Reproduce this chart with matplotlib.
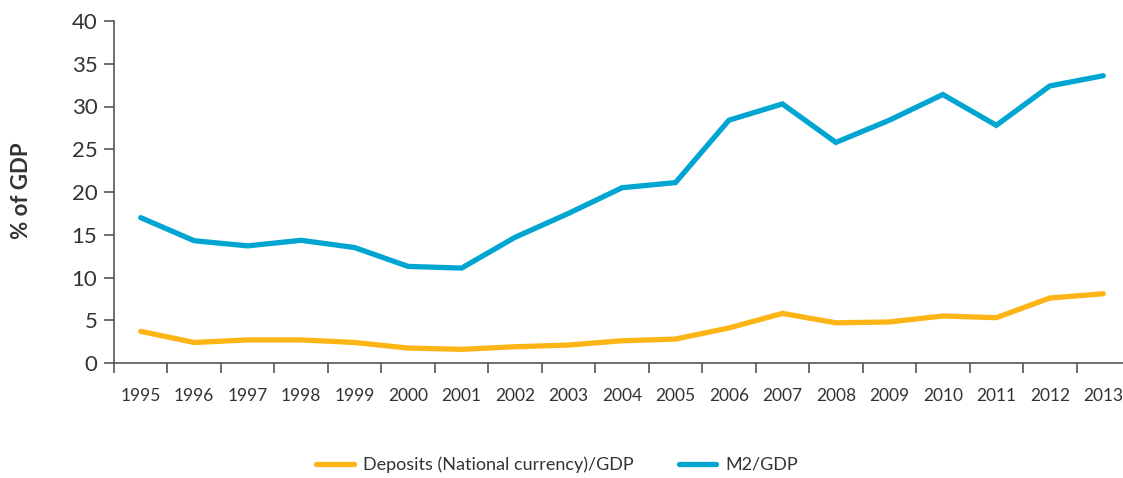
import numpy as np
import matplotlib
matplotlib.use("Agg")
import matplotlib.pyplot as plt

years = [str(y) for y in range(1995, 2014)]
deposits = [3.7, 2.4, 2.7, 2.7, 2.4, 1.75, 1.6, 1.9, 2.1, 2.6, 2.8, 4.1,
            5.8, 4.7, 4.8, 5.5, 5.3, 7.6, 8.1]
m2 = [17.0, 14.3, 13.7, 14.35, 13.5, 11.3, 11.1, 14.7, 17.5, 20.5, 21.1, 28.4,
      30.3, 25.8, 28.4, 31.4, 27.8, 32.4, 33.6]
y_ticks = [0, 5, 10, 15, 20, 25, 30, 35, 40]

orange = '#FDB515'
blue = '#00A5D2'
text_col = '#333333'
axis_col = '#555555'

plt.rcParams['font.family'] = ['Lato', 'DejaVu Sans']

fig = plt.figure(figsize=(11.23, 4.78), dpi=100)
ax = fig.add_axes([114 / 1123, 1 - 363 / 478, (1130 - 114) / 1123, (363 - 21) / 478])

x = np.arange(len(years))
ax.plot(x, deposits, color=orange, lw=3.8, solid_capstyle='round', solid_joinstyle='miter',
        label='Deposits (National currency)/GDP')
ax.plot(x, m2, color=blue, lw=3.8, solid_capstyle='round', solid_joinstyle='miter',
        label='M2/GDP')

ax.set_xlim(-0.5, len(years) - 0.5)
ax.set_ylim(0, 40)
ax.set_yticks(y_ticks)
ax.set_yticklabels([str(t) for t in y_ticks], fontsize=16, color=text_col)

# major ticks at the category borders, labels at the centres
ax.set_xticks(np.arange(-0.5, len(years), 1))
ax.set_xticklabels([])
ax.set_xticks(x, minor=True)
ax.set_xticklabels(years, minor=True, fontsize=12.5, color=text_col)
ax.tick_params(axis='x', which='minor', length=0, pad=18)
ax.tick_params(axis='x', which='major', length=7, width=1.2, color=axis_col)
ax.tick_params(axis='y', length=7, width=1.2, color=axis_col, pad=5)

for side in ['top', 'right']:
    ax.spines[side].set_visible(False)
for side in ['left', 'bottom']:
    ax.spines[side].set_color(axis_col)
    ax.spines[side].set_linewidth(1.2)

fig.text(22 / 1123, 1 - 191 / 478, '% of GDP', rotation=90, ha='center', va='center',
         fontsize=16, fontweight='bold', color=text_col)

fig.legend(loc='center', bbox_to_anchor=(0.496, 0.028), ncol=2, frameon=False,
           fontsize=13, handlelength=2.1, handletextpad=0.5, columnspacing=2.5,
           labelcolor=text_col)

fig.savefig('out.png', dpi=100)
